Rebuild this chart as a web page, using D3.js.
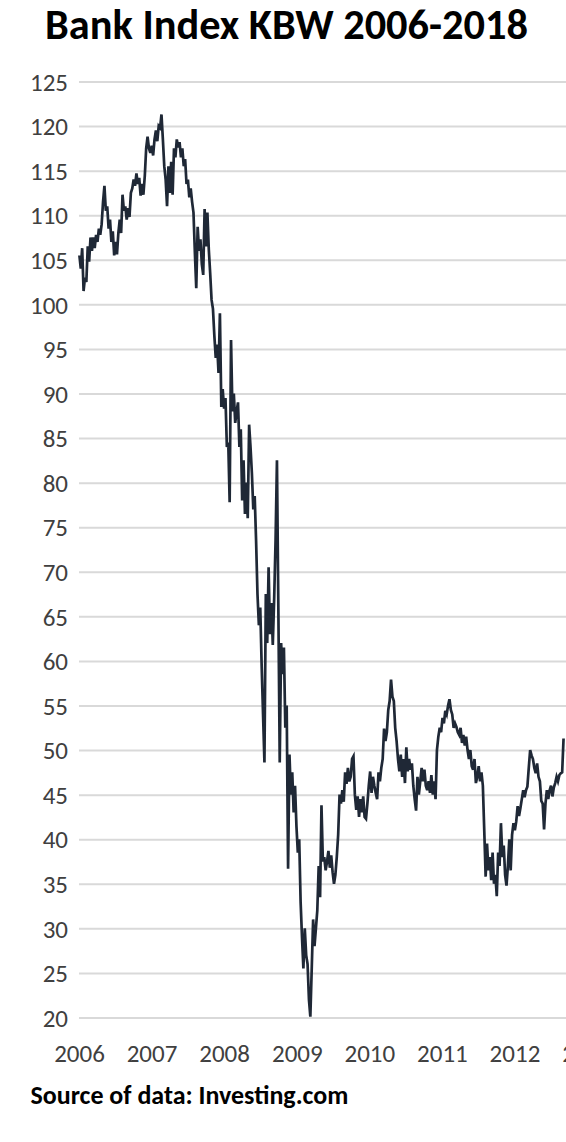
<!DOCTYPE html>
<html>
<head>
<meta charset="utf-8">
<script src="https://cdn.jsdelivr.net/npm/d3@7"></script>
<style>
  html, body { margin: 0; padding: 0; background: #ffffff; overflow: hidden; }
  svg { display: block; }
  text { font-family: Calibri, Carlito, "Open Sans", sans-serif; }
</style>
</head>
<body>
<svg id="chart" width="566" height="1142"></svg>
<script>
// ---- DATA (weekly closes) ----
const titleText = "Bank Index KBW 2006-2018";
const sourceText = "Source of data: Investing.com";
const startDate = "2006-01-03";
const stepDays = 7;
const yTicks = [20,25,30,35,40,45,50,55,60,65,70,75,80,85,90,95,100,105,110,115,120,125];
const yearTicks = ["2006","2007","2008","2009","2010","2011","2012","2013"];

const values2006 = [105.5,104,106.3,101.5,103,102.5,106.5,104.8,107.5,106,107.5,106.3,107.8,107,108.5,107.8,109,111.5,113.3,
  110.5,111,108.5,109.5,107,108.2,105.5,107,105.6,108,109.5,108,112.3,110.5,111,109.5,110.8,109.8,112.5,113,114,113.3,114.7,
  113.5,114.2,112.2,113.5,112.3,114.4,117.5,118.8,117.5,117];
const values2007 = [117.8,116.7,118.5,119.5,118.3,120,119.8,121.3,118.5,115.5,114,111,115.5,112.5,116,112.3,117.5,116.5,
  118.5,117.6,118.2,116.5,117.5,115.5,116.3,113.5,114,112,113,111.5,110.3,105.8,101.8,108.7,106,107.3,104.5,103.3,110.7,
  106.5,110.3,106.2,103.5,100.5,99.5,96.5,94,95.5,92.3,99,88.5,90.5];
const values2008 = [88.3,89.5,84,84.5,77.8,96,88,90,86.7,88,89,84,86,78,82.5,76.5,80,76,86.5,84,81,77,78.5,73.5,67.5,64,
  66,59.5,54,48.6,67.5,62,70.5,63,66.5,61.8,67,73.5,82.5,66,48.6,62,58.5,61.5,52.5,55,36.7,49.5,45,47.5,43,46];
const values2009 = [41.5,38.5,40,33,29,25.5,30,27,26,22,20.1,25.5,31,28,30,32,37,33.5,43.8,37.5,38,36.5,37.5,38.7,36.8,
  38.2,36.3,35,36,38,40.5,45,44,45.5,44.2,47.5,46.2,48,46.5,47,49,49.3,45,43.3,44.8,42.5,44.5,43,44.8,42.5,42.3,44];
const values2010 = [46,47.6,45.2,47,46,45.2,44.5,47.5,46.5,48,49,52.4,51,52,54.5,55.5,57.9,56,55.5,52.5,51,49,47.6,49.5,
  47,49,46.3,50.3,47.6,49,47.8,48.5,46,44.5,43.2,47,45,46.5,48,46.5,47.8,46,45.5,46.5,45.2,47.2,45,46.5,44.5,50,51.5,52.5];
const values2011 = [52,53.6,53,54.4,54,55,55.7,54.5,54,52.5,53,52.6,52,51.7,52.5,50.8,51.7,50.5,51.5,50,49,50,48.2,47.8,
  49,46.3,47,48.2,46.5,47.5,46,41,35.8,39.5,36.5,38,35.4,38.5,35,36,33.6,38.5,37,41.8,38,39.3,36,34.8,37,40,36.5,40.5];
const values2012 = [41.8,41,42,43.7,42.6,43.5,44.5,45.5,44.7,45.5,45.9,48,50,49.4,49,48,47.4,48.5,47,46.5,44.3,44,41.1,
  44,45.5,44.5,45.5,46,44.8,45.8,46.3,47,46.5,47.2,47.4,47.5,51.3];

// ---- BUILD SERIES ----
const allValues = [].concat(values2006, values2007, values2008, values2009, values2010, values2011, values2012);
const parse = d3.timeParse("%Y-%m-%d");
const t0 = parse(startDate);
const series = allValues.map((v, i) => ({ date: d3.timeDay.offset(t0, i * stepDays), value: v }));

// ---- LAYOUT ----
const W = 566, H = 1142;
const plotLeft = 79, plotTop = 81.5, plotBottom = 1017.5;
const pxPerYear = 72.6;

const svg = d3.select("#chart");

const x = d3.scaleTime()
  .domain([parse("2006-01-01"), parse("2013-01-01")])
  .range([plotLeft, plotLeft + 7 * pxPerYear]);

const y = d3.scaleLinear()
  .domain([20, 125])
  .range([plotBottom, plotTop]);

function fit(sel, target) {
  const w = sel.node().getComputedTextLength();
  const fs = +sel.attr("font-size");
  sel.attr("font-size", fs * target / w);
}

// Title
const title = svg.append("text")
  .attr("x", 286.5).attr("y", 39)
  .attr("text-anchor", "middle")
  .attr("font-weight", "bold")
  .attr("font-size", 34)
  .attr("fill", "#000")
  .text(titleText);
fit(title, 483);

// Y gridlines + labels
const yAxis = d3.axisLeft(y)
  .tickValues(yTicks)
  .tickSize(-(W - plotLeft + 40))
  .tickPadding(11)
  .tickFormat(d3.format("d"));

const gy = svg.append("g")
  .attr("transform", `translate(${plotLeft},0)`)
  .call(yAxis);
gy.select(".domain").remove();
gy.selectAll(".tick line").attr("stroke", "#d9d9d9").attr("stroke-width", 2);
gy.selectAll(".tick text")
  .attr("fill", "#404040")
  .attr("font-size", 25)
  .attr("dy", "0.35em");

// X labels
const xAxis = d3.axisBottom(x)
  .tickValues(yearTicks.map(s => parse(s + "-01-01")))
  .tickSize(0)
  .tickPadding(0)
  .tickFormat(d3.timeFormat("%Y"));
const gx = svg.append("g")
  .attr("transform", `translate(0,1062)`)
  .call(xAxis);
gx.select(".domain").remove();
gx.selectAll(".tick text")
  .attr("y", 0).attr("dy", 0)
  .attr("fill", "#404040")
  .attr("font-size", 25);

// Line
svg.append("clipPath").attr("id", "clip")
  .append("rect").attr("x", 0).attr("y", 0).attr("width", W).attr("height", H);

const line = d3.line()
  .x(d => x(d.date))
  .y(d => y(d.value));

svg.append("path")
  .datum(series)
  .attr("clip-path", "url(#clip)")
  .attr("fill", "none")
  .attr("stroke", "#1f2836")
  .attr("stroke-width", 2.7)
  .attr("stroke-linejoin", "miter")
  .attr("d", line);

// Source
const src = svg.append("text")
  .attr("x", 30.5).attr("y", 1104)
  .attr("font-weight", "bold")
  .attr("font-size", 21)
  .attr("fill", "#000")
  .text(sourceText);
fit(src, 318);
</script>
</body>
</html>
